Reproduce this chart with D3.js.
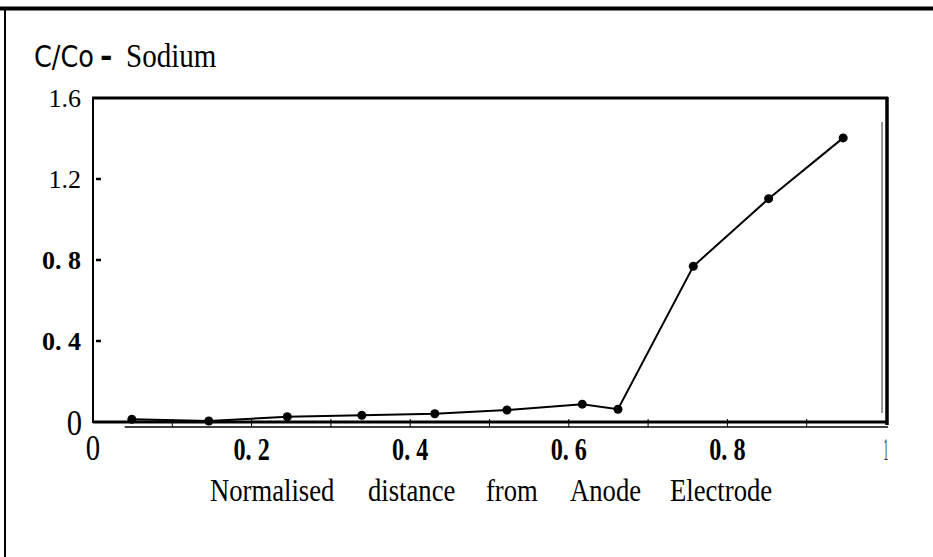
<!DOCTYPE html>
<html>
<head>
<meta charset="utf-8">
<script src="https://cdn.jsdelivr.net/npm/d3@7"></script>
<style>
  html, body { margin: 0; padding: 0; background: #fff; }
  svg { display: block; }
</style>
</head>
<body>
<svg id="chart" width="933" height="557"></svg>
<script>
// ---- data ----
const xValues = [0.049, 0.146, 0.245, 0.339, 0.431, 0.522, 0.617, 0.662, 0.757, 0.852, 0.946];
const yValues = [0.013, 0.005, 0.026, 0.033, 0.041, 0.059, 0.088, 0.063, 0.769, 1.103, 1.403];
const xTickValues = [0, 0.2, 0.4, 0.6, 0.8, 1];
const xTickLabels = ["0", "0. 2", "0. 4", "0. 6", "0. 8", "1"];
const xMinorTicks = [0.1, 0.3, 0.5, 0.7, 0.9];
const yTickValues = [0, 0.4, 0.8, 1.2, 1.6];
const yTickLabels = ["0", "0. 4", "0. 8", "1.2", "1.6"];
const titleMain = "C/Co";
const titleDash = "-";
const titleSub = "Sodium";
const xTitleWords = ["Normalised", "distance", "from", "Anode", "Electrode"];

// ---- layout ----
const SERIF = "'Liberation Serif', 'Times New Roman', Times, serif";
const svg = d3.select("#chart");
const pLeft = 93, pRight = 886, pTop = 98, pBottom = 422;
const x = d3.scaleLinear().domain([0, 1]).range([pLeft, pRight]);
const y = d3.scaleLinear().domain([0, 1.6]).range([pBottom, pTop]);

// outer frame (top and left)
svg.append("line").attr("x1", 0).attr("x2", 933).attr("y1", 8.5).attr("y2", 8.5)
  .attr("stroke", "#000").attr("stroke-width", 4);
svg.append("line").attr("x1", 5).attr("x2", 5).attr("y1", 7).attr("y2", 557)
  .attr("stroke", "#000").attr("stroke-width", 2);

// title
const tg = svg.append("g").attr("transform", "translate(34,67)");
tg.append("text").attr("x", 0).attr("y", 0)
  .attr("font-family", "'DejaVu Sans Condensed', 'Liberation Sans Narrow', 'DejaVu Sans', sans-serif")
  .attr("font-size", 31).attr("fill", "#000")
  .attr("textLength", 60).attr("lengthAdjust", "spacingAndGlyphs")
  .text(titleMain);
tg.append("text").attr("x", 66).attr("y", 0)
  .attr("font-family", "'DejaVu Sans', sans-serif").attr("font-weight", "bold")
  .attr("font-size", 30).attr("fill", "#000")
  .text(titleDash);
tg.append("g").attr("transform", "translate(92,0) scale(0.88,1)")
  .append("text").attr("x", 0).attr("y", 0)
  .attr("font-family", SERIF).attr("font-size", 33).attr("fill", "#000")
  .text(titleSub);

// plot frame
const g = svg.append("g");
g.append("line").attr("x1", pLeft - 1).attr("x2", pRight + 2).attr("y1", y(1.6)).attr("y2", y(1.6))
  .attr("stroke", "#000").attr("stroke-width", 3);
g.append("line").attr("x1", pRight + 1).attr("x2", pRight + 1).attr("y1", y(1.6) - 1).attr("y2", pBottom + 3)
  .attr("stroke", "#000").attr("stroke-width", 3.5);
g.append("line").attr("x1", x(0.995)).attr("x2", x(0.995)).attr("y1", 122).attr("y2", 413)
  .attr("stroke", "#555").attr("stroke-width", 1.2);
g.append("line").attr("x1", pLeft).attr("x2", pLeft).attr("y1", y(1.6)).attr("y2", pBottom + 1)
  .attr("stroke", "#000").attr("stroke-width", 2);

// bottom axis via d3.axisBottom
const xAxis = d3.axisBottom(x).tickValues(xTickValues.concat(xMinorTicks)).tickSize(0).tickFormat("");
const xa = g.append("g").attr("transform", `translate(0,${pBottom})`).call(xAxis);
xa.select(".domain").attr("stroke", "#000").attr("stroke-width", 3).attr("d", `M${pLeft},0H${pRight + 2}`);
g.append("line").attr("x1", x(0.04)).attr("x2", pRight + 2).attr("y1", pBottom + 5).attr("y2", pBottom + 5)
  .attr("stroke", "#000").attr("stroke-width", 1.5);
g.selectAll(".xt").data(xTickValues.slice(1, 5).concat(xMinorTicks)).join("line")
  .attr("x1", d => x(d)).attr("x2", d => x(d))
  .attr("y1", pBottom - 3).attr("y2", pBottom + 5)
  .attr("stroke", "#000").attr("stroke-width", 1);

// x tick labels
const xl = g.selectAll(".xl").data(xTickValues).join("g")
  .attr("transform", (d, i) => `translate(${x(d)},460) scale(${i === 0 ? 0.8 : (i === 5 ? 0.3 : 0.78)},1)`);
xl.append("text")
  .attr("x", 0).attr("y", 0)
  .attr("text-anchor", "middle")
  .attr("font-family", SERIF)
  .attr("font-weight", (d, i) => (i === 0 || i === 5) ? "normal" : "bold")
  .attr("font-size", (d, i) => i === 0 ? 36 : (i === 5 ? 32 : 31))
  .attr("fill", (d, i) => i === 5 ? "#333" : "#000")
  .style("opacity", (d, i) => i === 5 ? 0.99 : null)
  .text((d, i) => xTickLabels[i]);

// y tick marks
g.selectAll(".yt").data(yTickValues.slice(1, 4)).join("line")
  .attr("x1", pLeft + 3).attr("x2", pLeft + 8)
  .attr("y1", d => y(d)).attr("y2", d => y(d))
  .attr("stroke", "#000").attr("stroke-width", 2.5);

// y tick labels
const yl = g.selectAll(".yl").data(yTickValues).join("g")
  .attr("transform", (d, i) => i === 0 ? `translate(82,${y(d) + 13}) scale(0.85,1)` : `translate(81,${y(d) + 9})`);
yl.append("text")
  .attr("x", 0).attr("y", 0)
  .attr("text-anchor", "end")
  .attr("font-family", SERIF)
  .attr("font-weight", (d, i) => (i === 1 || i === 2) ? "bold" : "normal")
  .attr("font-size", (d, i) => i === 0 ? 36 : 26)
  .attr("fill", "#000")
  .text((d, i) => yTickLabels[i]);

// x axis title (words spread out as in the original)
const wordStarts = [210, 368, 486, 570, 670];
const xt = svg.append("g").attr("transform", "translate(210,501) scale(0.86,1)")
  .append("text").attr("y", 0)
  .attr("font-family", SERIF).attr("font-size", 31).attr("fill", "#000");
xt.selectAll("tspan").data(xTitleWords).join("tspan")
  .attr("x", (d, i) => (wordStarts[i] - 210) / 0.86)
  .text((d, i) => (i < xTitleWords.length - 1) ? d + " " : d);

// data line
const pts = xValues.map((v, i) => [v, yValues[i]]);
const line = d3.line().x(d => x(d[0])).y(d => y(d[1]));
g.append("path").datum(pts).attr("d", line)
  .attr("fill", "none").attr("stroke", "#000").attr("stroke-width", 2);
g.selectAll(".pt").data(pts).join("circle")
  .attr("cx", d => x(d[0])).attr("cy", d => y(d[1])).attr("r", 4.5).attr("fill", "#000");
</script>
</body>
</html>
